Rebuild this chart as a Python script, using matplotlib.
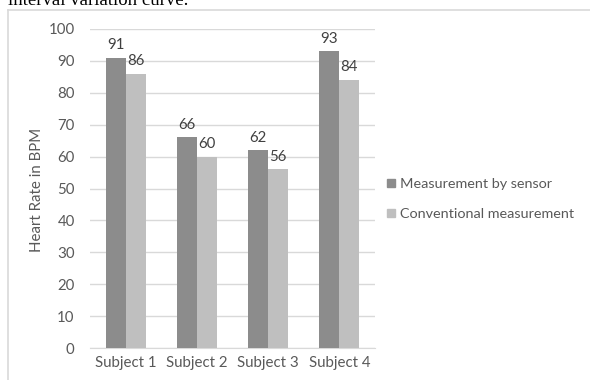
import matplotlib.pyplot as plt
from matplotlib.lines import Line2D
from matplotlib.patches import Patch

subjects = ["Subject 1", "Subject 2", "Subject 3", "Subject 4"]
sensor = [91, 66, 62, 93]
conventional = [86, 60, 56, 84]
series_names = ["Measurement by sensor", "Conventional measurement"]

DARK = "#8c8c8c"
LIGHT = "#bfbfbf"
GRID = "#d9d9d9"
TXT = "#595959"
FS = 10.8

plt.rcParams["font.family"] = ["Lato", "DejaVu Sans"]

W, H = 590, 380
fig = plt.figure(figsize=(W / 100, H / 100), dpi=100)

# caption line from the page, cut off at the top edge
fig.text(8 / W, 1 - 5 / H, "interval variation curve.", family="Liberation Serif",
         fontsize=13.5, color="black", va="baseline", ha="left")

# chart frame
fig.add_artist(Line2D([8 / W, 8 / W], [0, 1 - 10 / H], color=GRID, lw=1.2,
                      transform=fig.transFigure))
fig.add_artist(Line2D([8 / W, 1], [1 - 10 / H, 1 - 10 / H], color=GRID, lw=1.2,
                      transform=fig.transFigure))

ax = fig.add_axes([90 / W, 1 - 348 / H, 285 / W, 319 / H])
x = list(range(len(subjects)))
bw = 0.28
b1 = ax.bar([i - bw / 2 for i in x], sensor, bw, color=DARK, zorder=3)
b2 = ax.bar([i + bw / 2 for i in x], conventional, bw, color=LIGHT, zorder=3)

for bars, vals in ((b1, sensor), (b2, conventional)):
    for rect, v in zip(bars, vals):
        ax.annotate(str(v), (rect.get_x() + rect.get_width() / 2, v),
                    xytext=(0, 4), textcoords="offset points",
                    ha="center", va="bottom", fontsize=FS, color="#404040")

ax.set_xlim(-0.5, 3.5)
ax.set_ylim(0, 100)
ax.set_yticks(range(0, 101, 10))
ax.set_xticks(x)
ax.set_xticklabels(subjects)
ax.yaxis.grid(True, color=GRID, lw=1, zorder=0)
for s in ("top", "right", "left"):
    ax.spines[s].set_visible(False)
ax.spines["bottom"].set_color(GRID)
ax.tick_params(axis="both", length=0, labelsize=FS, labelcolor=TXT)
ax.tick_params(axis="y", pad=11)
ax.tick_params(axis="x", pad=6)

fig.text(37 / W, 1 - 190 / H, "Heart Rate in BPM", rotation=90, ha="center",
         va="center", fontsize=FS, color=TXT)

handles = [Patch(color=DARK), Patch(color=LIGHT)]
fig.legend(handles, series_names, loc="center left",
           bbox_to_anchor=(374 / W, 1 - 199 / H), frameon=False,
           fontsize=10.4, labelcolor=TXT, handlelength=0.55, handleheight=0.55,
           handletextpad=0.35, labelspacing=1.25)

fig.savefig("out.png", dpi=100)
